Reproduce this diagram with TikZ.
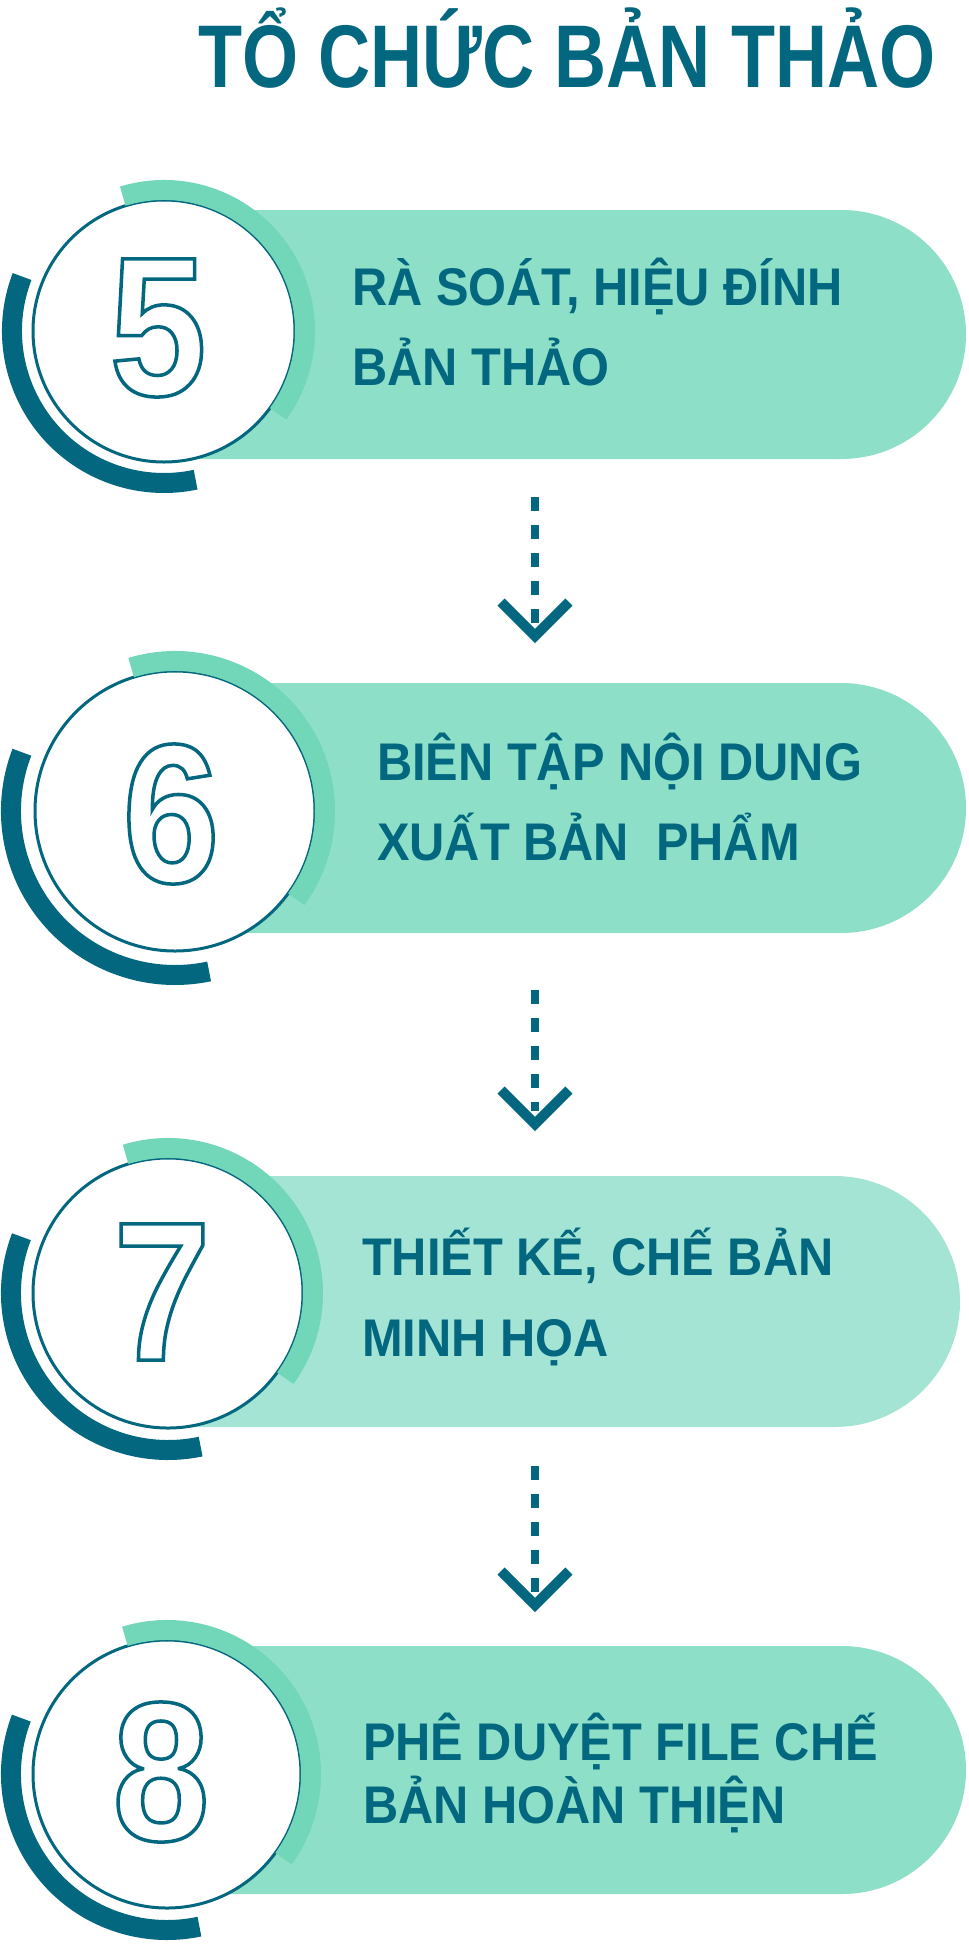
\documentclass[tikz,border=0pt]{standalone}
\usepackage{fontspec}
\usepackage{xcolor}
\usepackage{tikz}
\usetikzlibrary{calc}
\usetikzlibrary{shapes.misc}
\setmainfont{Liberation Sans}
\newfontfamily\titlefont[FakeStretch=0.81]{Liberation Sans}
\newfontfamily\labelfont[FakeStretch=0.92]{Liberation Sans}
\newfontfamily\digitfont[FakeStretch=0.88]{Liberation Sans}
\definecolor{tealdark}{HTML}{02677F}
\definecolor{arcgreen}{HTML}{72D6B9}
\definecolor{pillgreen}{HTML}{8DDFC8}
\definecolor{pilllight}{HTML}{A4E4D4}
\newcommand{\outl}[1]{\special{pdf:literal direct 1 Tr 3.5 w}#1\special{pdf:literal direct 0 Tr 1 w}}

\begin{document}
\begin{tikzpicture}[x=1pt, y=1pt,
		pill/.style={rounded rectangle, rounded rectangle west arc=none, fill=pillgreen, inner sep=0pt},
		ring/.style={circle, draw=tealdark, line width=3pt, fill=white, inner sep=0pt},
		greenarc/.style={arcgreen, line width=20pt},
		darkarc/.style={tealdark, line width=20pt},
		digit/.style={text=tealdark, font=\digitfont\fontsize{198}{198}\selectfont\bfseries, inner sep=0pt},
		steptext/.style={text=tealdark, font=\labelfont\fontsize{53}{80}\selectfont\bfseries, align=left, anchor=base west, inner sep=0pt},
		dashline/.style={tealdark, line width=8pt, dash pattern=on 14pt off 14pt},
		chevron/.style={tealdark, line width=10pt}]
			\useasboundingbox (0,0) rectangle (969,-1960);
			%title
			\node [anchor=base, text=tealdark, font=\titlefont\fontsize{89}{89}\selectfont\bfseries] at (567,-87) (title) {TỔ CHỨC BẢN THẢO};

			%step 5
			\node [pill] at (565,-334.5) (p5) [minimum width=802pt, minimum height=249pt] {};
			\node [ring] at (164,-331) (c5) [minimum size=262pt] {};
			\draw [darkarc] ($(c5.center)+(159:152pt)$) arc [start angle=159, end angle=282, radius=152pt];
			\draw [greenarc] ($(c5.center)+(107:141pt)$) arc [start angle=107, end angle=-36, radius=141pt];
			\node [digit] at ($(c5.center)+(-6,3)$) (n5) {\outl{5}};
			% base of the text is its last line
			\node [steptext] at (352,-385) (t5) {RÀ SOÁT, HIỆU ĐÍNH\\BẢN THẢO};

			%arrow 5 to 6
			\coordinate (s5) at (535,-497);
			\coordinate (e5) at (535,-636);
			\draw [dashline] (s5) -- ($(e5)+(0,13)$);
			\draw [chevron] ($(e5)+(-34,34)$) -- (e5) -- ($(e5)+(34,34)$);

			%step 6
			\node [pill] at (570.5,-808) (p6) [minimum width=791pt, minimum height=250pt] {};
			\node [ring] at (175,-811) (c6) [minimum size=280pt] {};
			\draw [darkarc] ($(c6.center)+(159:164pt)$) arc [start angle=159, end angle=282, radius=164pt];
			\draw [greenarc] ($(c6.center)+(107:150pt)$) arc [start angle=107, end angle=-36, radius=150pt];
			\node [digit] at ($(c6.center)+(-4,-3)$) (n6) {\outl{6}};
			\node [steptext] at (377,-860) (t6) {BIÊN TẬP NỘI DUNG\\XUẤT BẢN\ \ PHẨM};

			%arrow 6 to 7
			\coordinate (s6) at (535,-990);
			\coordinate (e6) at (535,-1124);
			\draw [dashline] (s6) -- ($(e6)+(0,13)$);
			\draw [chevron] ($(e6)+(-34,34)$) -- (e6) -- ($(e6)+(34,34)$);

			%step 7
			\node [pill, fill=pilllight] at (564,-1301.5) (p7) [minimum width=792pt, minimum height=251pt] {};
			\node [ring] at (168,-1293) (c7) [minimum size=270pt] {};
			\draw [darkarc] ($(c7.center)+(159:157pt)$) arc [start angle=159, end angle=282, radius=157pt];
			\draw [greenarc] ($(c7.center)+(107:145pt)$) arc [start angle=107, end angle=-36, radius=145pt];
			\node [digit] at ($(c7.center)+(-6,1)$) (n7) {\outl{7}};
			\node [steptext, font=\labelfont\fontsize{53}{81}\selectfont\bfseries] at (362,-1356) (t7) {THIẾT KẾ, CHẾ BẢN\\MINH HỌA};

			%arrow 7 to 8
			\coordinate (s7) at (535,-1466);
			\coordinate (e7) at (535,-1605);
			\draw [dashline] (s7) -- ($(e7)+(0,13)$);
			\draw [chevron] ($(e7)+(-34,34)$) -- (e7) -- ($(e7)+(34,34)$);

			%step 8
			\node [pill] at (566.5,-1770) (p8) [minimum width=799pt, minimum height=248pt] {};
			\node [ring] at (167,-1774) (c8) [minimum size=268pt] {};
			\draw [darkarc] ($(c8.center)+(159:156pt)$) arc [start angle=159, end angle=282, radius=156pt];
			\draw [greenarc] ($(c8.center)+(107:144pt)$) arc [start angle=107, end angle=-36, radius=144pt];
			\node [digit] at ($(c8.center)+(-6,2)$) (n8) {\outl{8}};
			\node [steptext, font=\labelfont\fontsize{53}{63}\selectfont\bfseries] at (363,-1823) (t8) {PHÊ DUYỆT FILE CHẾ\\BẢN HOÀN THIỆN};
		\end{tikzpicture}
\end{document}
